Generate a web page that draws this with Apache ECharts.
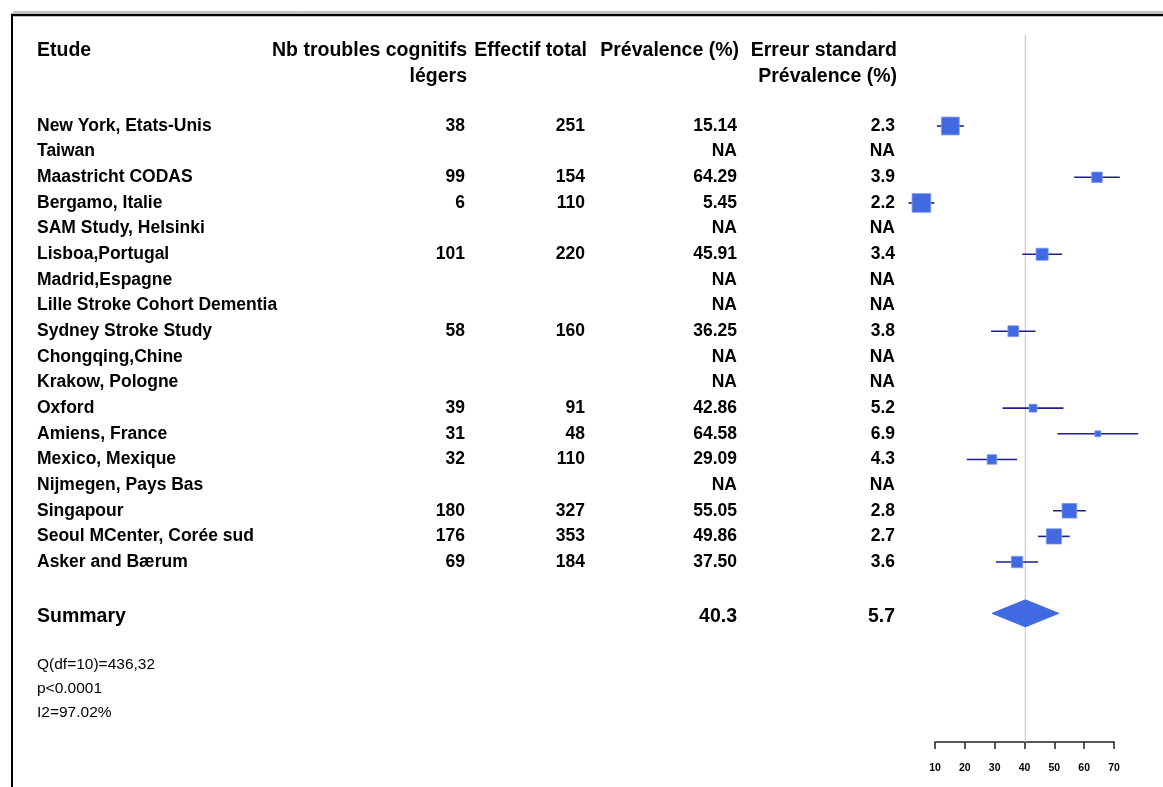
<!DOCTYPE html>
<html><head><meta charset="utf-8">
<script src="https://cdn.jsdelivr.net/npm/echarts@6/dist/echarts.min.js"></script>
<style>html,body{margin:0;padding:0;background:#fff}#c{width:1163px;height:787px}</style>
</head><body><div id="c"></div>
<script>
// ---------- data ----------
const studies = ['New York, Etats-Unis','Taiwan','Maastricht CODAS','Bergamo, Italie','SAM Study, Helsinki','Lisboa,Portugal','Madrid,Espagne','Lille Stroke Cohort Dementia','Sydney Stroke Study','Chongqing,Chine','Krakow, Pologne','Oxford','Amiens, France','Mexico, Mexique','Nijmegen, Pays Bas','Singapour','Seoul MCenter, Corée sud','Asker and Bærum'];
const nbMCI      = [38, null, 99, 6, null, 101, null, null, 58, null, null, 39, 31, 32, null, 180, 176, 69];
const totals     = [251, null, 154, 110, null, 220, null, null, 160, null, null, 91, 48, 110, null, 327, 353, 184];
const prevalence = [15.14, null, 64.29, 5.45, null, 45.91, null, null, 36.25, null, null, 42.86, 64.58, 29.09, null, 55.05, 49.86, 37.50];
const stdErr     = [2.3, null, 3.9, 2.2, null, 3.4, null, null, 3.8, null, null, 5.2, 6.9, 4.3, null, 2.8, 2.7, 3.6];
const summaryPrev = 40.3;
const summarySE = 5.7;
const axisTicks = [10, 20, 30, 40, 50, 60, 70];
const headers1 = ['Etude', 'Nb troubles cognitifs', 'Effectif total', 'Prévalence (%)', 'Erreur standard'];
const headers2 = ['', 'légers', '', '', 'Prévalence (%)'];
const heterogeneity = ['Q(df=10)=436,32', 'p<0.0001', 'I2=97.02%'];

// ---------- layout ----------
const W = 1163, H = 787;
const ROW0_Y = 126, ROW_H = 25.65, AXIS_Y = 742;
const yMin = -ROW0_Y / ROW_H;
const yMax = yMin + AXIS_Y / ROW_H;
const SUMMARY_IDX = studies.length + 1;
const colX = [37, 465, 585, 737, 895];
const colAlign = ['left', 'right', 'right', 'right', 'right'];
const FONT = '"Liberation Sans", Arial, sans-serif';
const rowFont = 'bold 17.5px ' + FONT;
const headFont = 'bold 19.5px ' + FONT;

const tableRows = studies.map((s, i) => [i]);
function fmt(v, d) { return v == null ? '' : (d == null ? String(v) : v.toFixed(d)); }

const chart = echarts.init(document.getElementById('c'), null, {renderer: 'canvas'});

function textEl(x, y, text, align, font) {
  return {type: 'text', x: x, y: y, style: {text: text, align: align, verticalAlign: 'middle', font: font, fill: '#000'}};
}

const option = {
  animation: false,
  backgroundColor: '#fff',
  grid: [
    {left: 0, right: 0, top: 0, height: AXIS_Y, containLabel: false},
    {left: 935, width: 179, top: 0, height: AXIS_Y, containLabel: false}
  ],
  xAxis: [
    {gridIndex: 0, type: 'value', min: 0, max: W, show: false},
    {gridIndex: 1, type: 'value', min: axisTicks[0], max: axisTicks[axisTicks.length - 1], interval: 10,
     position: 'bottom',
     axisLine: {show: true, onZero: false, lineStyle: {color: '#222', width: 1.5}},
     axisTick: {show: true, length: 7, lineStyle: {color: '#222', width: 1.5}},
     axisLabel: {show: true, margin: 21, fontSize: 10.5, fontWeight: 'bold', color: '#000', fontFamily: FONT},
     splitLine: {show: false}}
  ],
  yAxis: [
    {gridIndex: 0, type: 'value', inverse: true, min: yMin, max: yMax, show: false},
    {gridIndex: 1, type: 'value', inverse: true, min: yMin, max: yMax, show: false}
  ],
  series: [
    // table body
    {
      type: 'custom', xAxisIndex: 0, yAxisIndex: 0, silent: true,
      data: tableRows,
      renderItem: function (params, api) {
        const i = api.value(0);
        const y = api.coord([0, i])[1];
        const vals = [studies[i], fmt(nbMCI[i]), fmt(totals[i]),
          prevalence[i] == null ? 'NA' : prevalence[i].toFixed(2),
          stdErr[i] == null ? 'NA' : stdErr[i].toFixed(1)];
        return {type: 'group', children: vals.map((t, k) => textEl(api.coord([colX[k], i])[0], y, t, colAlign[k], rowFont))};
      }
    },
    // headers, summary, heterogeneity
    {
      type: 'custom', xAxisIndex: 0, yAxisIndex: 0, silent: true,
      data: [[0]],
      renderItem: function (params, api) {
        const ch = [];
        const y1 = api.coord([0, -2.93])[1], y2 = api.coord([0, -1.93])[1];
        headers1.forEach((t, k) => ch.push(textEl(api.coord([colX[k], 0])[0] + (k > 0 ? 2 : 0), y1, t, colAlign[k], headFont)));
        headers2.forEach((t, k) => { if (t) ch.push(textEl(api.coord([colX[k], 0])[0] + (k > 0 ? 2 : 0), y2, t, colAlign[k], headFont)); });
        const ys = api.coord([0, SUMMARY_IDX])[1] + 3;
        ch.push(textEl(api.coord([colX[0], 0])[0], ys, 'Summary', 'left', headFont));
        ch.push(textEl(api.coord([colX[3], 0])[0], ys, summaryPrev.toFixed(1), 'right', headFont));
        ch.push(textEl(api.coord([colX[4], 0])[0], ys, summarySE.toFixed(1), 'right', headFont));
        heterogeneity.forEach((t, k) => {
          const yy = api.coord([0, SUMMARY_IDX + 2 + k * 0.935])[1];
          ch.push(textEl(api.coord([colX[0], 0])[0], yy, t, 'left', '15.5px ' + FONT));
        });
        return {type: 'group', children: ch};
      }
    },
    // reference line at summary estimate
    {
      type: 'line', xAxisIndex: 1, yAxisIndex: 1, silent: true, symbol: 'none',
      lineStyle: {color: '#cfcfcf', width: 1.3},
      data: [[summaryPrev, -3.55], [summaryPrev, yMax]],
      z: 1
    },
    // study estimates with 95% CI
    {
      type: 'custom', xAxisIndex: 1, yAxisIndex: 1, silent: true, clip: false,
      data: prevalence.map((p, i) => p == null ? null : [p, i, stdErr[i]]).filter(d => d),
      renderItem: function (params, api) {
        const p = api.value(0), i = api.value(1), s = api.value(2);
        const c = api.coord([p, i]);
        const lo = api.coord([p - 1.96 * s, i]), hi = api.coord([p + 1.96 * s, i]);
        const sz = 41 / s;
        return {type: 'group', children: [
          {type: 'line', shape: {x1: lo[0], y1: c[1], x2: hi[0], y2: c[1]}, style: {stroke: '#1f1f8c', lineWidth: 1.6}},
          {type: 'rect', shape: {x: c[0] - sz / 2, y: c[1] - sz / 2, width: sz, height: sz}, style: {fill: '#4169e1', stroke: '#7a96ee', lineWidth: 0.8}}
        ]};
      },
      z: 3
    },
    // summary diamond
    {
      type: 'custom', xAxisIndex: 1, yAxisIndex: 1, silent: true, clip: false,
      data: [[summaryPrev, SUMMARY_IDX, summarySE]],
      renderItem: function (params, api) {
        const p = api.value(0), i = api.value(1), s = api.value(2);
        const c = api.coord([p, i]);
        const lo = api.coord([p - 1.96 * s, i]), hi = api.coord([p + 1.96 * s, i]);
        const hh = 13.5;
        return {type: 'polygon', shape: {points: [[lo[0], c[1]], [c[0], c[1] - hh], [hi[0], c[1]], [c[0], c[1] + hh]]},
          style: {fill: '#4169e1', stroke: '#4169e1', lineWidth: 1}};
      },
      z: 3
    }
  ],
  graphic: [
    {type: 'line', shape: {x1: 13, y1: 12, x2: W, y2: 12}, style: {stroke: '#888', lineWidth: 1}, silent: true},
    {type: 'line', shape: {x1: 11, y1: 15, x2: W, y2: 15}, style: {stroke: '#000', lineWidth: 2.5}, silent: true},
    {type: 'line', shape: {x1: 12, y1: 14, x2: 12, y2: H}, style: {stroke: '#000', lineWidth: 2}, silent: true}
  ]
};
chart.setOption(option);
</script>
</body></html>
